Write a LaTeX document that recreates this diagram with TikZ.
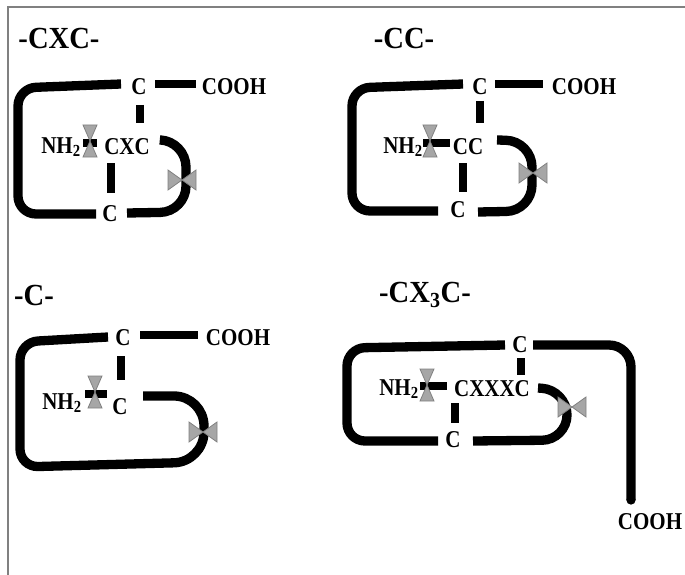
\documentclass[tikz,border=0pt]{standalone}
\usepackage{fontspec}
\setmainfont{Liberation Serif}
\begin{document}
\begin{tikzpicture}[x=1pt,y=-1pt,
  lbl/.style={inner sep=0pt,font=\fontsize{21}{21}\selectfont\bfseries,yscale=1.15},
  ttl/.style={inner sep=0pt,font=\fontsize{26}{26}\selectfont\bfseries,xscale=1.1,yscale=1.18},
  chain/.style={line width=9.3pt,black},
  bar/.style={line width=7.3pt,black},
  bowh/.pic={\filldraw[fill=gray!70,draw=gray!100!black,line width=0.8pt]
     (-14,-10) -- (0,0) -- (-14,10) -- cycle (14,-10) -- (0,0) -- (14,10) -- cycle;},
  bowv/.pic={\filldraw[fill=gray!70,draw=gray!100!black,line width=0.8pt]
     (-7,-16) -- (0,0) -- (7,-16) -- cycle (-7,16) -- (0,0) -- (7,16) -- cycle;}]
\useasboundingbox (0,0) rectangle (685,575);
% frame
\draw[gray,line width=2pt] (8,575) -- (8,7.5) -- (685,7.5);

% ================= Panel 1: -CXC-
\node[ttl] (t1) at (59,38) {-CXC-};
\node[lbl] (c1t) at (139,87) {C};
\node[lbl] (o1) at (234,87) {COOH};
\node[lbl] (n1) at (61,147) {NH\textsubscript{2}};
\node[lbl] (r1) at (127,147) {CXC};
\node[lbl] (c1b) at (110,214) {C};
\draw[chain,rounded corners=18] (121,84) -- (18,88) -- (18,214) -- (96,214);
\draw[chain,rounded corners=26] (162,140) -- (186,141) -- (186,212) -- (127,213);
\draw[bar] (155,84) -- (196,84);
\draw[bar] (140,105) -- (140,123);
\draw[bar] (111,163) -- (111,193);
\draw[bar] (83,143) -- (97,143);
\path (90,141) pic {bowv};
\path (182,180) pic {bowh};

% ================= Panel 2: -CC-
\node[ttl] (t2) at (404,38) {-CC-};
\node[lbl] (c2t) at (480,87) {C};
\node[lbl] (o2) at (584,87) {COOH};
\node[lbl] (n2) at (403,147) {NH\textsubscript{2}};
\node[lbl] (r2) at (468,147) {CC};
\node[lbl] (c2b) at (458,210) {C};
\draw[chain,rounded corners=18] (463,84) -- (352,88) -- (352,211) -- (438,211);
\draw[chain,rounded corners=26] (497,140) -- (532,141) -- (532,211) -- (478,212);
\draw[bar] (495,84) -- (543,84);
\draw[bar] (480,101) -- (480,123);
\draw[bar] (463,163) -- (463,192);
\draw[bar] (423,143) -- (450,143);
\path (430,141) pic {bowv};
\path (533,173) pic {bowh};

% ================= Panel 3: -C-
\node[ttl] (t3) at (34,295) {-C-};
\node[lbl] (c3t) at (123,338) {C};
\node[lbl] (o3) at (238,338) {COOH};
\node[lbl] (n3) at (62,403) {NH\textsubscript{2}};
\node[lbl] (c3b) at (120,407) {C};
\draw[chain,rounded corners=18] (108,337) -- (20,342) -- (20,467)
   [rounded corners=30] -- (204,462) -- (204,396) -- (143,396);
\draw[bar] (140,335) -- (198,335);
\draw[bar] (121,356) -- (121,380);
\draw[bar] (85,394) -- (107,394);
\path (95,392) pic {bowv};
\path (203,432) pic {bowh};

% ================= Panel 4: -CX3C-
\node[ttl] (t4) at (425,295) {-CX\textsubscript{3}C-};
\node[lbl] (c4t) at (520,345) {C};
\node[lbl] (o4) at (650,522) {COOH};
\node[lbl] (n4) at (399,389) {NH\textsubscript{2}};
\node[lbl] (r4) at (492,389) {CXXXC};
\node[lbl] (c4b) at (453,440) {C};
\draw[chain,rounded corners=18] (505,345) -- (347,348) -- (347,441) -- (438,441);
\draw[chain,rounded corners=22] (533,345) -- (631,345) -- (631,500);
\fill (631,500) circle (4.65pt);
\draw[chain,rounded corners=25] (538,388) -- (567,390) -- (567,440) -- (473,441);
\draw[bar] (521,358) -- (521,375);
\draw[bar] (455,403) -- (455,423);
\draw[bar] (420,386) -- (447,386);
\path (427,385) pic {bowv};
\path (572,407) pic {bowh};
\end{tikzpicture}
\end{document}
